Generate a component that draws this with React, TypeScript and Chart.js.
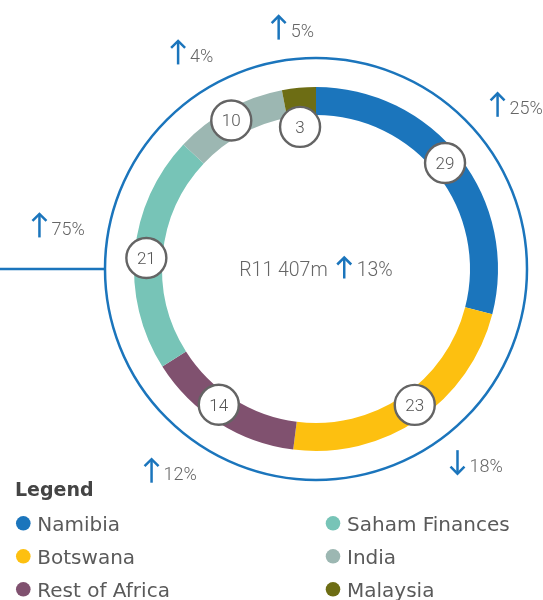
import { useEffect, useRef } from 'react';
import { Chart, registerables } from 'chart.js';

Chart.register(...registerables);

const regions = ['Namibia', 'Botswana', 'Rest of Africa', 'Saham Finances', 'India', 'Malaysia'];
const shares = [29, 23, 14, 21, 10, 3];
const changes = [25, -18, 12, 75, 4, 5];
const colors = ['#1B75BC', '#FDC010', '#80516F', '#77C4B7', '#9CB7B2', '#6D6D14'];
const totalLabel = 'R11 407m';
const totalChange = 13;
const legendTitle = 'Legend';

const BLUE = '#1B75BC';
const TEXT = '#666666';
const FONT = '"DejaVu Sans", sans-serif';
const NUMFONT = 'Roboto, "DejaVu Sans", sans-serif';

// annotation layout (style only): angle nudges in degrees, radii in px
const bubbleNudge = [-1.6, -1.8, 3.2, -1.7, -0.9, -1.0];
const bubbleRadius = [167, 168, 167, 170, 171, 143];
const changeNudge = [-1.4, -5.4, 3.3, 4.1, -1.0, -0.1];
const changeRadius = [259, 252, 249, 261, 249, 242];

function drawArrow(ctx: CanvasRenderingContext2D, x: number, baseline: number, up: boolean, len = 24.5) {
  const top = baseline + 2.5 - len;
  const bottom = baseline + 2.5;
  ctx.save();
  ctx.strokeStyle = BLUE;
  ctx.lineWidth = 2.5;
  ctx.lineCap = 'butt';
  ctx.lineJoin = 'miter';
  ctx.beginPath();
  ctx.moveTo(x, up ? top + 1 : top);
  ctx.lineTo(x, up ? bottom : bottom - 1);
  ctx.stroke();
  ctx.beginPath();
  if (up) {
    ctx.moveTo(x - 7, top + 8);
    ctx.lineTo(x, top + 1);
    ctx.lineTo(x + 7, top + 8);
  } else {
    ctx.moveTo(x - 7, bottom - 8);
    ctx.lineTo(x, bottom - 1);
    ctx.lineTo(x + 7, bottom - 8);
  }
  ctx.stroke();
  ctx.restore();
}

const decorPlugin = {
  id: 'decor',
  afterDraw(chart: any) {
    const ctx: CanvasRenderingContext2D = chart.ctx;
    const meta = chart.getDatasetMeta(0);
    const arcs = meta.data;
    if (!arcs.length) return;
    const first = arcs[0].getProps(['x', 'y', 'innerRadius', 'outerRadius'], true);
    const cx = first.x;
    const cy = first.y;
    const outerR = first.outerRadius;
    const ringR = outerR + 29;

    // outer ring + connector line
    ctx.save();
    ctx.strokeStyle = BLUE;
    ctx.lineWidth = 2.5;
    ctx.beginPath();
    ctx.arc(cx, cy, ringR, 0, Math.PI * 2);
    ctx.stroke();
    ctx.beginPath();
    ctx.moveTo(0, cy);
    ctx.lineTo(cx - ringR, cy);
    ctx.stroke();
    ctx.restore();

    // value bubbles and change labels
    arcs.forEach((arc: any, i: number) => {
      const p = arc.getProps(['startAngle', 'endAngle'], true);
      const mid = (p.startAngle + p.endAngle) / 2;
      const a = mid + (bubbleNudge[i] * Math.PI) / 180;
      const r = bubbleRadius[i];
      const bx = cx + r * Math.cos(a);
      const by = cy + r * Math.sin(a);
      ctx.save();
      ctx.beginPath();
      ctx.arc(bx, by, 20, 0, Math.PI * 2);
      ctx.fillStyle = '#ffffff';
      ctx.fill();
      ctx.lineWidth = 2.4;
      ctx.strokeStyle = '#646464';
      ctx.stroke();
      ctx.fillStyle = '#555555';
      ctx.font = `300 17px ${NUMFONT}`;
      ctx.textAlign = 'center';
      ctx.textBaseline = 'alphabetic';
      ctx.fillText(String(shares[i]), bx, by + 6);
      ctx.restore();

      // change label
      const ca = mid + (changeNudge[i] * Math.PI) / 180;
      const cr = changeRadius[i];
      const px = cx + cr * Math.cos(ca);
      const py = cy + cr * Math.sin(ca);
      ctx.save();
      ctx.font = `300 18px ${NUMFONT}`;
      const txt = `${Math.abs(changes[i])}%`;
      const tw = ctx.measureText(txt).width;
      const gw = 7 + 12 + tw;
      const left = px - gw / 2;
      const shaft = left + 7;
      const baseline = py + 9;
      drawArrow(ctx, shaft, baseline, changes[i] >= 0);
      ctx.fillStyle = TEXT;
      ctx.textAlign = 'left';
      ctx.textBaseline = 'alphabetic';
      ctx.fillText(txt, shaft + 12, baseline);
      ctx.restore();
    });

    // centre total
    ctx.save();
    ctx.font = `300 19.5px ${NUMFONT}`;
    const t1 = totalLabel;
    const t2 = `${Math.abs(totalChange)}%`;
    const w1 = ctx.measureText(t1).width;
    const w2 = ctx.measureText(t2).width;
    const gw = w1 + 16.5 + 12.5 + w2;
    const left = cx - gw / 2;
    const base = cy + 7;
    ctx.fillStyle = TEXT;
    ctx.textAlign = 'left';
    ctx.textBaseline = 'alphabetic';
    ctx.fillText(t1, left, base);
    drawArrow(ctx, left + w1 + 16.5, base, totalChange >= 0, 22);
    ctx.fillText(t2, left + w1 + 29, base);
    ctx.restore();

    // legend
    ctx.save();
    ctx.font = `bold 19px ${FONT}`;
    ctx.fillStyle = '#444444';
    ctx.textAlign = 'left';
    ctx.textBaseline = 'alphabetic';
    ctx.fillText(legendTitle, 15, 495.5);
    ctx.font = `20px ${FONT}`;
    const rows = Math.ceil(regions.length / 2);
    regions.forEach((name, i) => {
      const col = Math.floor(i / rows);
      const row = i % rows;
      const mx = col === 0 ? 23.3 : 333;
      const my = 523.3 + row * 33;
      ctx.beginPath();
      ctx.arc(mx, my, 7.3, 0, Math.PI * 2);
      ctx.fillStyle = colors[i];
      ctx.fill();
      ctx.fillStyle = '#5a5a5a';
      ctx.fillText(name, mx + 14, my + 7.5);
    });
    ctx.restore();
  },
};

export default function App() {
  const ref = useRef<HTMLCanvasElement | null>(null);
  useEffect(() => {
    if (!ref.current) return;
    const chart = new Chart(ref.current, {
      type: 'doughnut',
      data: {
        labels: regions,
        datasets: [
          {
            data: shares,
            backgroundColor: colors,
            borderWidth: 0,
            hoverOffset: 0,
          },
        ],
      },
      options: {
        responsive: false,
        animation: false,
        cutout: '84.6%',
        layout: { padding: { left: 134, right: 45, top: 87, bottom: 149 } },
        plugins: {
          legend: { display: false },
          tooltip: { enabled: false },
        },
      },
      plugins: [decorPlugin],
    });
    return () => chart.destroy();
  }, []);
  return (
    <div style={{ position: 'absolute', left: 0, top: 0, width: 543, height: 600, background: '#ffffff' }}>
      <canvas ref={ref} width={543} height={600} />
    </div>
  );
}
